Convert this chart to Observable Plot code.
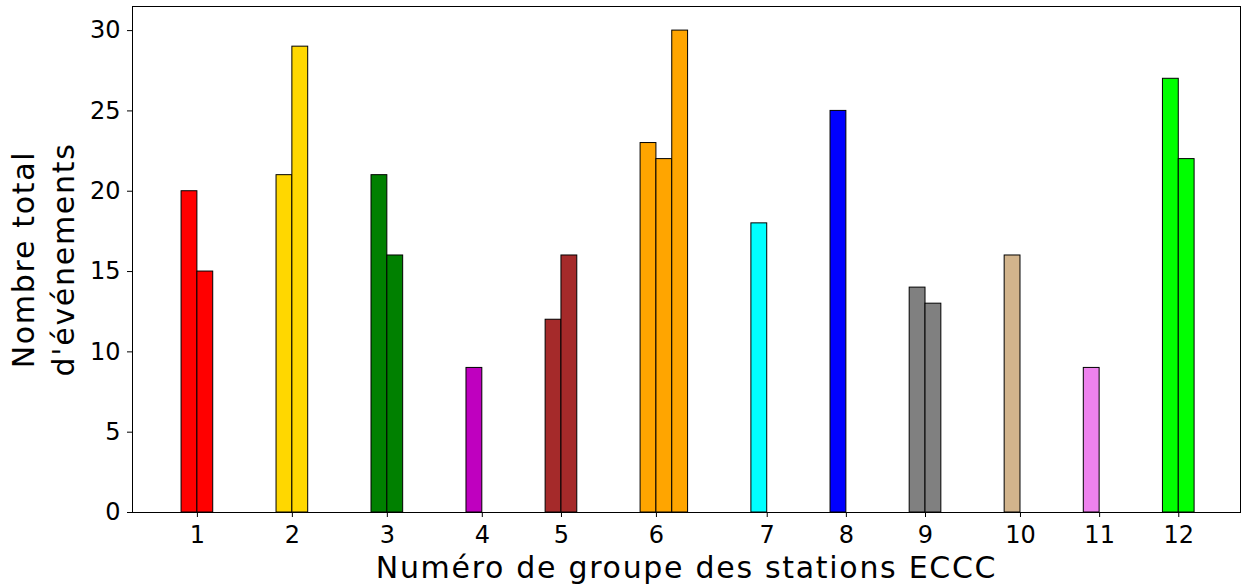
<!DOCTYPE html>
<html>
<head>
<meta charset="utf-8">
<script src="https://cdn.jsdelivr.net/npm/d3@7"></script>
<script src="https://cdn.jsdelivr.net/npm/@observablehq/plot@0.6"></script>
<style>
  html, body { margin: 0; padding: 0; background: #fff; }
  #chart svg { display: block; }
</style>
</head>
<body>
<div id="chart"></div>
<script>
// Station groups (x-axis categories) and the colour used for each group
const groupLabels = ["1", "2", "3", "4", "5", "6", "7", "8", "9", "10", "11", "12"];
const groupColors = ["red", "gold", "green", "#bf00bf", "brown", "orange",
                     "cyan", "blue", "gray", "tan", "violet", "lime"];

// One entry per ECCC station: the group it belongs to and its total event count
const stationGroup  = [1, 1, 2, 2, 3, 3, 4, 5, 5, 6, 6, 6, 7, 8, 9, 9, 10, 11, 12, 12];
const stationEvents = [20, 15, 21, 29, 21, 16, 9, 12, 16, 23, 22, 30, 18, 25, 14, 13, 16, 9, 27, 22];

const yTicks = [0, 5, 10, 15, 20, 25, 30];

const xTitle = "Numéro de groupe des stations ECCC";
const yTitle = "Nombre total\nd'événements";

// Lay stations side by side (one slot each) with a 4-slot gap between groups;
// each group's tick sits one slot after the group's first bar.
const stations = [];
const tickPos = [];
let cursor = -1;
groupLabels.forEach((label, gi) => {
  const g = gi + 1;
  tickPos.push(cursor + 1);
  stationGroup.forEach((sg, si) => {
    if (sg === g) {
      stations.push({x1: cursor, x2: cursor + 1, events: stationEvents[si], color: groupColors[gi]});
      cursor += 1;
    }
  });
  cursor += 4;
});
const labelAt = new Map(tickPos.map((p, i) => [p, groupLabels[i]]));

const chart = Plot.plot({
  width: 1241,
  height: 588,
  marginLeft: 132,
  marginRight: 1,
  marginTop: 6,
  marginBottom: 76,
  style: {fontFamily: "DejaVu Sans", color: "#000", background: "#fff"},
  x: {domain: [-4.1, 65.9], axis: null},
  y: {domain: [0, 31.5], axis: null},
  color: {type: "identity"},
  marks: [
    Plot.rectY(stations, {x1: "x1", x2: "x2", y1: 0, y2: "events", fill: "color",
                          stroke: "#000", strokeWidth: 1, inset: 0}),
    Plot.axisX(tickPos, {tickSize: 5, tickPadding: 8, fontSize: 24,
                         tickFormat: (d) => labelAt.get(d), label: null}),
    Plot.axisY(yTicks, {tickSize: 5, tickPadding: 7, fontSize: 24, label: null}),
    Plot.frame({stroke: "#000", strokeWidth: 1}),
    Plot.text([xTitle], {
      frameAnchor: "bottom", lineAnchor: "bottom", dy: 65, fontSize: 30
    }),
    Plot.text([yTitle], {
      frameAnchor: "left", textAnchor: "middle", lineAnchor: "middle",
      dx: -91, rotate: -90, lineHeight: 1.33, fontSize: 30
    })
  ]
});

// Axis titles are set slightly wider than the default glyph spacing
d3.select(chart).selectAll("text")
  .filter(function () {
    const t = this.textContent;
    return t === xTitle || t.startsWith("Nombre total");
  })
  .style("letter-spacing", "1.7px");

document.getElementById("chart").appendChild(chart);
</script>
</body>
</html>
